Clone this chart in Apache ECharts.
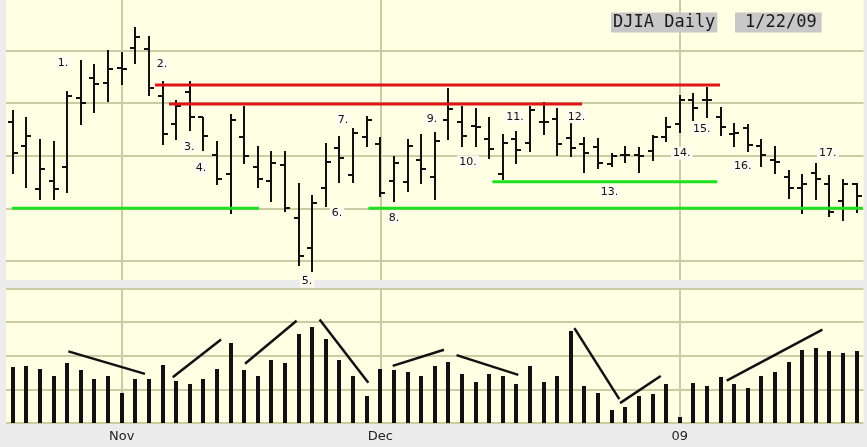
<!DOCTYPE html>
<html>
<head>
<meta charset="utf-8">
<script src="https://cdn.jsdelivr.net/npm/echarts@6/dist/echarts.min.js"></script>
<style>
html,body{margin:0;padding:0;background:#ECECEC;}
#chart{width:867px;height:447px;}
</style>
</head>
<body>
<div id="chart"></div>
<script>
// ---- data (DJIA daily, 22 Oct 2008 – 22 Jan 2009) ----
const dates = ['2008-10-22','2008-10-23','2008-10-24','2008-10-27','2008-10-28','2008-10-29','2008-10-30','2008-10-31',
  '2008-11-03','2008-11-04','2008-11-05','2008-11-06','2008-11-07','2008-11-10','2008-11-11','2008-11-12','2008-11-13','2008-11-14',
  '2008-11-17','2008-11-18','2008-11-19','2008-11-20','2008-11-21','2008-11-24','2008-11-25','2008-11-26','2008-11-28',
  '2008-12-01','2008-12-02','2008-12-03','2008-12-04','2008-12-05','2008-12-08','2008-12-09','2008-12-10','2008-12-11','2008-12-12',
  '2008-12-15','2008-12-16','2008-12-17','2008-12-18','2008-12-19','2008-12-22','2008-12-23','2008-12-24','2008-12-26',
  '2008-12-29','2008-12-30','2008-12-31',
  '2009-01-02','2009-01-05','2009-01-06','2009-01-07','2009-01-08','2009-01-09','2009-01-12','2009-01-13','2009-01-14',
  '2009-01-15','2009-01-16','2009-01-20','2009-01-21','2009-01-22'];
const openVals  = [8819,8590,8182,8263,8396,9047,9242,9195,9339,9522,9518,9066,8800,9111,8869,8508,8330,8674,8396,8263,8413,7906,7626,8197,8577,8318,8676,8612,8263,8248,8460,8301,8840,8819,8783,8663,8327,8660,8625,8819,8850,8666,8612,8587,8425,8508,8512,8548,8676,8802,9026,9030,8872,8707,8761,8593,8460,8301,8189,8334,8235,8072,8235];
const highVals  = [8935,8872,8663,8644,9116,9411,9376,9509,9487,9727,9642,9211,9035,9211,8872,8641,8900,8973,8593,8546,8546,8239,8127,8625,8691,8761,8881,8676,8498,8663,8707,8723,9142,8973,8952,8872,8707,8739,8973,9009,8952,8821,8676,8666,8527,8593,8582,8701,8869,9076,9097,9154,8964,8809,8802,8655,8593,8365,8330,8432,8322,8281,8239];
const lowVals   = [8324,8191,8077,8077,8144,8793,8910,9009,9173,9370,9071,8603,8650,8731,8550,8225,7950,8422,8191,8058,7963,7452,7393,8010,8239,8244,8584,8111,8061,8159,8229,8080,8650,8587,8587,8472,8270,8422,8536,8698,8498,8486,8339,8375,8389,8434,8339,8453,8634,8714,8829,8861,8685,8581,8536,8389,8325,8092,7950,8080,7918,7880,7953];
const closeVals = [8524,8688,8377,8182,9066,8999,9180,9325,9325,9632,9147,8704,8973,8867,8686,8277,8843,8498,8280,8429,8001,7548,8054,8444,8482,8720,8840,8149,8429,8593,8377,8641,8942,8688,8777,8562,8619,8555,8935,8819,8609,8577,8530,8429,8498,8508,8498,8676,8777,9033,8956,9026,8774,8720,8607,8505,8444,8197,8230,8277,7963,8235,8115];
const volumeVals = [166,171,161,141,177,157,131,141,89,131,131,172,126,115,131,162,239,157,141,187,177,265,285,249,187,141,79,162,157,151,141,171,182,146,121,146,141,115,171,121,141,275,110,89,38,48,79,85,115,17,120,110,136,115,105,141,151,182,218,223,213,208,213];

// tick labels (month starts, by bar index)
const monthTickIndex  = [8, 27, 49];
const monthTickLabels = ['Nov', 'Dec', '09'];
const priceGridLevels = [7500, 8000, 8500, 9000, 9500];

// hand-drawn annotations in data space: [xStart, xEnd, price]
const resistanceLines = [[10.45, 51.96, 9173], [11.48, 41.82, 8992]];
const supportLines    = [[-0.06, 18.09, 8001], [26.13, 62.45, 8001], [35.23, 51.76, 8254]];
// volume trend strokes: [x0, vol0, x1, vol1]
const volumeTrendLines = [[4.08,213,9.71,146],[11.75,136,15.30,248],[17.06,176,20.85,304],[22.54,308,26.12,120],
  [27.91,170,31.68,218],[32.60,202,37.14,143],[41.26,282,44.56,71],[44.61,59,47.60,140],[52.45,126,59.48,278]];
// wave labels
const waveLabels = ['1.','2.','3.','4.','5.','6.','7.','8.','9.','10.','11.','12.','13.','14.','15.','16.','17.'];
const waveLabelX = [3.69,10.96,12.96,13.83,21.62,23.82,24.26,28.01,30.80,33.45,36.90,41.42,43.83,49.15,50.62,53.63,59.88];
const waveLabelY = [9382,9373,8584,8384,7310,7956,8840,7909,8850,8441,8869,8872,8159,8524,8755,8406,8524];

// ---- styles ----
const PANEL_BG = '#FFFFE3';
const GRID_COLOR = '#CBCBA4';
const BAR_COLOR = '#111111';

const ohlcData = dates.map((d, i) => [i, openVals[i], highVals[i], lowVals[i], closeVals[i]]);
const volData = volumeVals.map((v, i) => [i, v]);

function ohlcRender(params, api) {
  const x = api.value(0);
  const pH = api.coord([x, api.value(2)]);
  const pL = api.coord([x, api.value(3)]);
  const pO = api.coord([x, api.value(1)]);
  const pC = api.coord([x, api.value(4)]);
  const cx = Math.round(pH[0]);
  const yH = Math.round(pH[1]), yL = Math.round(pL[1]);
  const yO = Math.round(pO[1]), yC = Math.round(pC[1]);
  const st = {fill: BAR_COLOR};
  return {type: 'group', children: [
    {type: 'rect', shape: {x: cx - 1, y: yH, width: 2, height: yL - yH}, style: st},
    {type: 'rect', shape: {x: cx - 5, y: yO - 1, width: 5, height: 2}, style: st},
    {type: 'rect', shape: {x: cx, y: yC - 1, width: 5, height: 2}, style: st}
  ]};
}

function volRender(params, api) {
  const pTop = api.coord([api.value(0), api.value(1)]);
  const pBase = api.coord([api.value(0), 0]);
  const cx = Math.round(pTop[0]);
  const yT = Math.round(pTop[1]), yB = Math.round(pBase[1]);
  return {type: 'rect', shape: {x: cx - 2, y: yT, width: 4, height: yB - yT}, style: {fill: BAR_COLOR}};
}

function hLineRender(color) {
  return function (params, api) {
    const p0 = api.coord([api.value(0), api.value(2)]);
    const p1 = api.coord([api.value(1), api.value(2)]);
    return {type: 'line', shape: {x1: p0[0], y1: p0[1], x2: p1[0], y2: p1[1]},
      style: {stroke: color, lineWidth: 3}};
  };
}

const chart = echarts.init(document.getElementById('chart'), null, {renderer: 'canvas'});
chart.setOption({
  animation: false,
  backgroundColor: '#ECECEC',
  title: [
    {text: 'DJIA Daily', left: 611, top: 13, padding: [2, 2, 1, 2], backgroundColor: '#C8C8C8',
      textStyle: {fontFamily: 'DejaVu Sans Mono', fontSize: 17, fontWeight: 'normal', color: '#1a1a1a', lineHeight: 16}},
    {text: '1/22/09', left: 735, top: 13, padding: [2, 5, 1, 10], backgroundColor: '#C8C8C8',
      textStyle: {fontFamily: 'DejaVu Sans Mono', fontSize: 17, fontWeight: 'normal', color: '#1a1a1a', lineHeight: 16}}
  ],
  grid: [
    {left: 6, right: 3.5, top: 0, height: 280, show: true, backgroundColor: PANEL_BG, borderWidth: 0},
    {left: 6, right: 3.5, top: 288.5, height: 134.5, show: true, backgroundColor: PANEL_BG, borderWidth: 0}
  ],
  xAxis: [
    {type: 'value', gridIndex: 0, min: -0.5, max: 62.5, show: false},
    {type: 'value', gridIndex: 1, min: -0.5, max: 62.5,
      axisLine: {show: false}, axisTick: {show: false}, splitLine: {show: false},
      axisLabel: {customValues: monthTickIndex,
        formatter: v => monthTickLabels[monthTickIndex.indexOf(v)] || '',
        color: '#222', fontFamily: 'DejaVu Sans', fontSize: 13, margin: 7}}
  ],
  yAxis: [
    {type: 'value', gridIndex: 0, min: 7319, max: 9981, show: false},
    {type: 'value', gridIndex: 1, min: 0, max: 400, interval: 100,
      axisLine: {show: false}, axisTick: {show: false}, axisLabel: {show: false},
      splitLine: {show: true, lineStyle: {color: GRID_COLOR, width: 2}}}
  ],
  series: [
    {type: 'line', xAxisIndex: 0, yAxisIndex: 0, data: [], z: 1, silent: true,
      markLine: {z: 1, silent: true, symbol: 'none', label: {show: false},
        lineStyle: {color: GRID_COLOR, width: 2, type: 'solid'},
        data: priceGridLevels.map(v => ({yAxis: v})).concat(monthTickIndex.map(i => ({xAxis: i})))}},
    {type: 'line', xAxisIndex: 1, yAxisIndex: 1, data: [], z: 1, silent: true,
      markLine: {z: 1, silent: true, symbol: 'none', label: {show: false},
        lineStyle: {color: GRID_COLOR, width: 2, type: 'solid'},
        data: monthTickIndex.map(i => ({xAxis: i}))}},
    {type: 'custom', name: 'DJIA', xAxisIndex: 0, yAxisIndex: 0, data: ohlcData, z: 3,
      encode: {x: 0, y: [1, 2, 3, 4]}, renderItem: ohlcRender},
    {type: 'custom', name: 'Volume', xAxisIndex: 1, yAxisIndex: 1, data: volData, z: 3,
      encode: {x: 0, y: 1}, renderItem: volRender},
    {type: 'custom', xAxisIndex: 0, yAxisIndex: 0, data: resistanceLines, z: 5, silent: true,
      renderItem: hLineRender('#E01414')},
    {type: 'custom', xAxisIndex: 0, yAxisIndex: 0, data: supportLines, z: 5, silent: true,
      renderItem: hLineRender('#1EE01E')},
    {type: 'custom', xAxisIndex: 1, yAxisIndex: 1, data: volumeTrendLines, z: 5, silent: true,
      renderItem: function (params, api) {
        const p0 = api.coord([api.value(0), api.value(1)]);
        const p1 = api.coord([api.value(2), api.value(3)]);
        return {type: 'line', shape: {x1: p0[0], y1: p0[1], x2: p1[0], y2: p1[1]},
          style: {stroke: '#111', lineWidth: 2.5}};
      }},
    {type: 'custom', xAxisIndex: 0, yAxisIndex: 0, z: 6, silent: true, clip: false,
      data: waveLabelX.map((x, i) => [x, waveLabelY[i]]),
      renderItem: function (params, api) {
        const p = api.coord([api.value(0), api.value(1)]);
        return {type: 'text', x: p[0], y: p[1],
          style: {text: waveLabels[params.dataIndex], fill: '#111', font: '11px "DejaVu Sans"',
            align: 'center', verticalAlign: 'middle', backgroundColor: '#FFFBF0', padding: [1, 2]}};
      }}
  ]
});
</script>
</body>
</html>
